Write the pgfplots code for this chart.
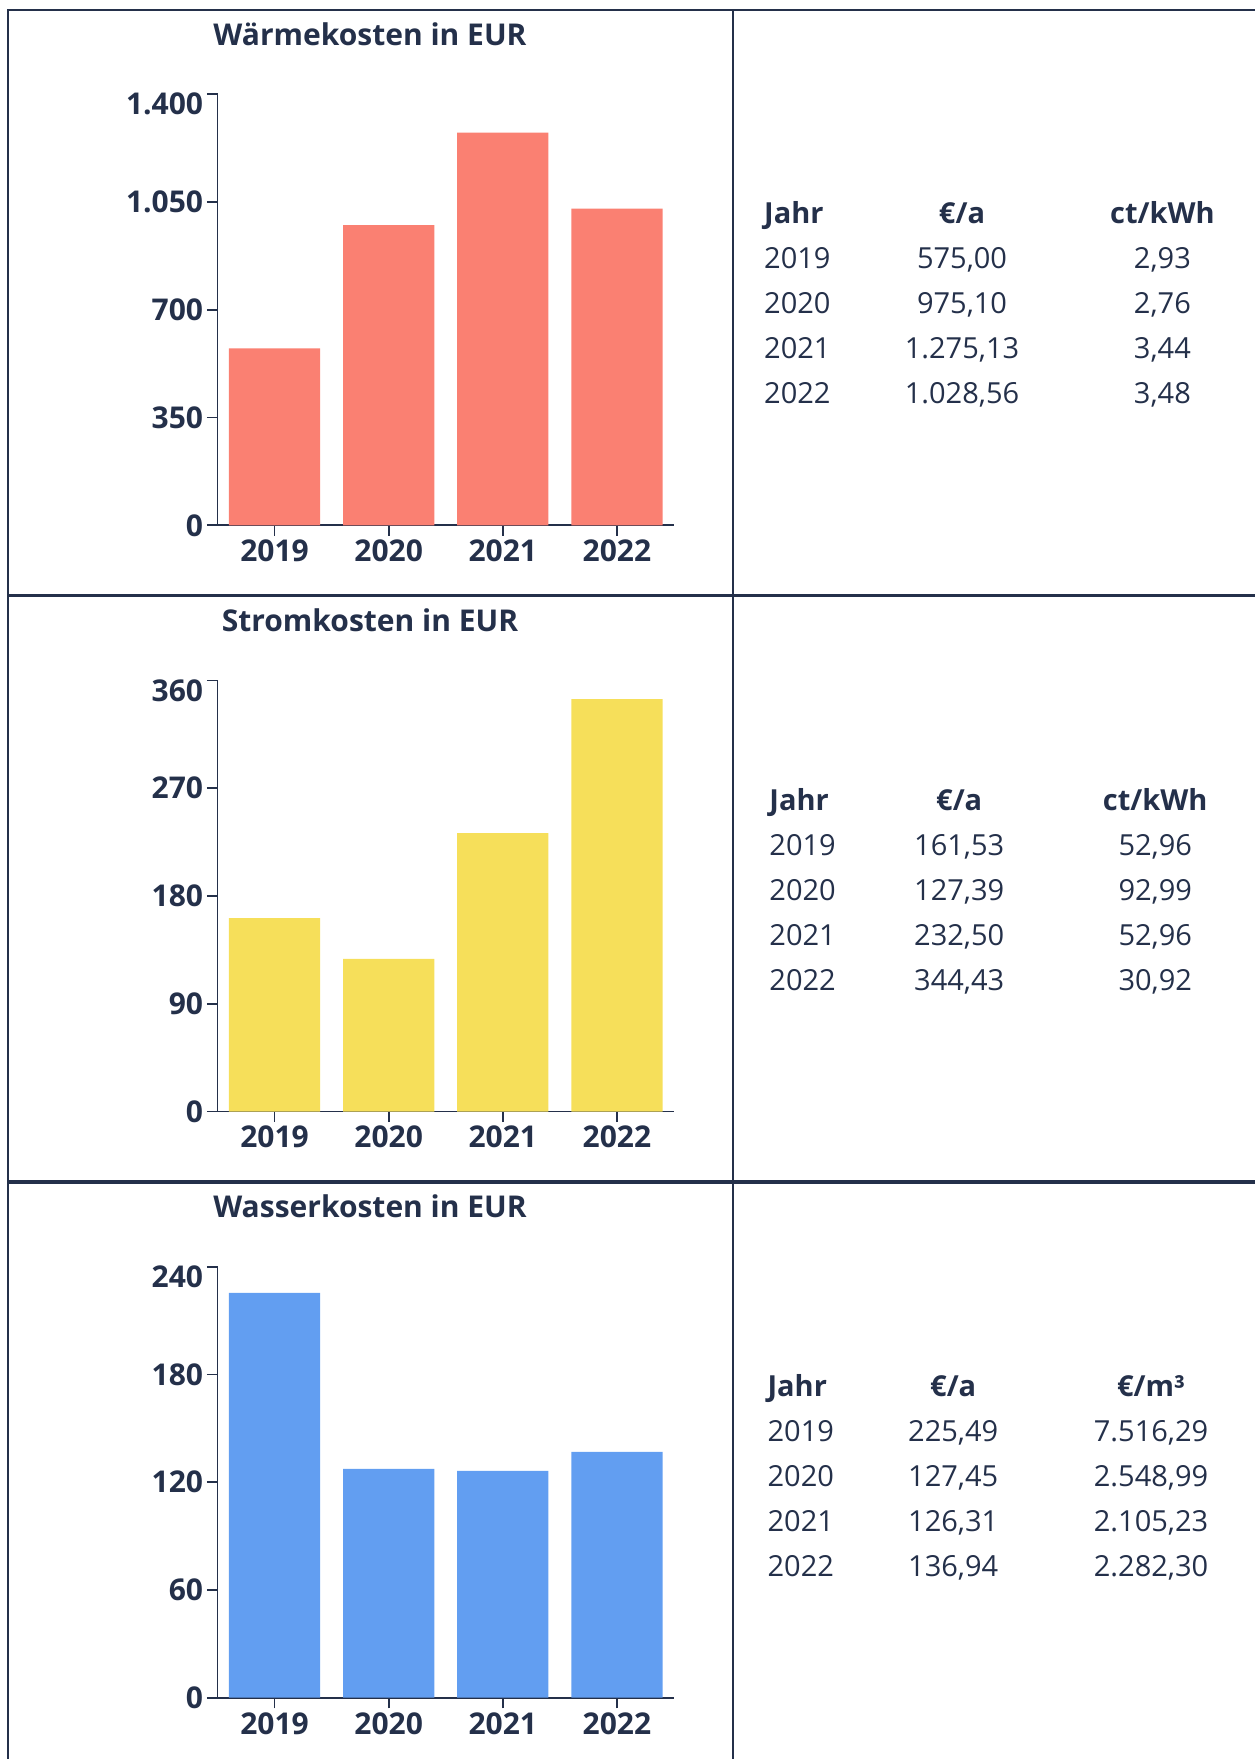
\documentclass[border=0pt]{standalone}
\usepackage{pgfplots}
\pgfplotsset{compat=1.18}
\usepackage{fontspec}
\setmainfont{Open Sans}
\definecolor{navy}{HTML}{24304A}
\definecolor{salmonc}{HTML}{FA8072}
\definecolor{yellowc}{HTML}{F6DF5A}
\definecolor{bluec}{HTML}{629EF1}

\pgfplotsset{
  panel/.style={
    scale only axis, width=228.25pt, height=215.5pt,
    anchor=south west,
    xmin=-0.5, xmax=3.5, ymin=0,
    axis x line=bottom, axis y line=left,
    axis line style={-, line width=0.9pt, navy},
    every tick/.style={line width=0.9pt, navy},
    tick align=outside, major tick length=5.3pt,
    xtick={0,1,2,3}, xticklabels={2019,2020,2021,2022},
    tick label style={font=\bfseries\fontsize{15}{18}\selectfont, text=navy},
    xticklabel style={anchor=north, inner sep=0pt, yshift=-1.8pt},
    yticklabel style={anchor=east, inner sep=0pt, xshift=-1.7pt},
    extra y tick style={yticklabel style={anchor=north east, yshift=0.8pt}},
    ybar, bar width=45.65pt,
    clip=false,
  },
}
\newcommand{\tfont}{\fontsize{14.5}{17}\selectfont}
\newcommand{\titlefont}{\bfseries\fontsize{15}{18}\selectfont}

\begin{document}
\begin{tikzpicture}[every node/.style={inner sep=0pt, text=navy}]
\useasboundingbox (0,0) rectangle (627.5pt,-879.5pt);
% frame
\draw[navy, line width=1pt] (3.5pt,-5pt) -- (627.5pt,-5pt);
\draw[navy, line width=1pt] (3.85pt,-5pt) -- (3.85pt,-879.5pt);
\draw[navy, line width=1pt] (366.35pt,-5pt) -- (366.35pt,-879.5pt);
\draw[navy, line width=1.6pt] (3.85pt,-297.85pt) -- (627.5pt,-297.85pt);
\draw[navy, line width=1.6pt] (3.85pt,-591pt) -- (627.5pt,-591pt);

% titles
\node[anchor=base, font=\titlefont] at (185pt,-22.6pt) {Wärmekosten in EUR};
\node[anchor=base, font=\titlefont] at (185pt,-315.7pt) {Stromkosten in EUR};
\node[anchor=base, font=\titlefont] at (185pt,-608.8pt) {Wasserkosten in EUR};

% chart 1
\begin{axis}[panel, at={(108.75pt,-262.65pt)}, ymax=1400,
  ytick={0,350,700,1050}, yticklabels={0,350,700,1.050},
  extra y ticks={1400}, extra y tick labels={1.400}]
\addplot[fill=salmonc, draw=none] coordinates {(0,575.00) (1,975.10) (2,1275.13) (3,1028.56)};
\end{axis}

% chart 2
\begin{axis}[panel, at={(108.75pt,-555.75pt)}, ymax=360,
  ytick={0,90,180,270}, yticklabels={0,90,180,270},
  extra y ticks={360}, extra y tick labels={360}]
\addplot[fill=yellowc, draw=none] coordinates {(0,161.53) (1,127.39) (2,232.50) (3,344.43)};
\end{axis}

% chart 3
\begin{axis}[panel, at={(108.75pt,-848.85pt)}, ymax=240,
  ytick={0,60,120,180}, yticklabels={0,60,120,180},
  extra y ticks={240}, extra y tick labels={240}]
\addplot[fill=bluec, draw=none] coordinates {(0,225.49) (1,127.45) (2,126.31) (3,136.94)};
\end{axis}

\begin{scope}[every node/.append style={font=\tfont}]
% table 1
\node[anchor=base west] at (381.9pt,-112pt) {\bfseries Jahr};
\node[anchor=base] at (481pt,-112pt) {\bfseries €/a};
\node[anchor=base] at (581.2pt,-112pt) {\bfseries ct/kWh};
\foreach \y/\a/\b/\c in {-134.5/2019/{575,00}/{2,93}, -157/2020/{975,10}/{2,76}, -179.5/2021/{1.275,13}/{3,44}, -202/2022/{1.028,56}/{3,48}}{
  \node[anchor=base west] at (381.9pt,\y pt) {\a};
  \node[anchor=base] at (481pt,\y pt) {\b};
  \node[anchor=base] at (581.2pt,\y pt) {\c};
}
% table 2
\node[anchor=base west] at (384.5pt,-405.25pt) {\bfseries Jahr};
\node[anchor=base] at (479.6pt,-405.25pt) {\bfseries €/a};
\node[anchor=base] at (577.6pt,-405.25pt) {\bfseries ct/kWh};
\foreach \y/\a/\b/\c in {-427.75/2019/{161,53}/{52,96}, -450.25/2020/{127,39}/{92,99}, -472.75/2021/{232,50}/{52,96}, -495.25/2022/{344,43}/{30,92}}{
  \node[anchor=base west] at (384.5pt,\y pt) {\a};
  \node[anchor=base] at (479.6pt,\y pt) {\b};
  \node[anchor=base] at (577.6pt,\y pt) {\c};
}
% table 3
\node[anchor=base west] at (383.6pt,-698pt) {\bfseries Jahr};
\node[anchor=base] at (476.6pt,-698pt) {\bfseries €/a};
\node[anchor=base] at (575.5pt,-698pt) {\bfseries €/m³};
\foreach \y/\a/\b/\c in {-720.5/2019/{225,49}/{7.516,29}, -743/2020/{127,45}/{2.548,99}, -765.5/2021/{126,31}/{2.105,23}, -788/2022/{136,94}/{2.282,30}}{
  \node[anchor=base west] at (383.6pt,\y pt) {\a};
  \node[anchor=base] at (476.6pt,\y pt) {\b};
  \node[anchor=base] at (575.5pt,\y pt) {\c};
}
\end{scope}
\end{tikzpicture}
\end{document}
